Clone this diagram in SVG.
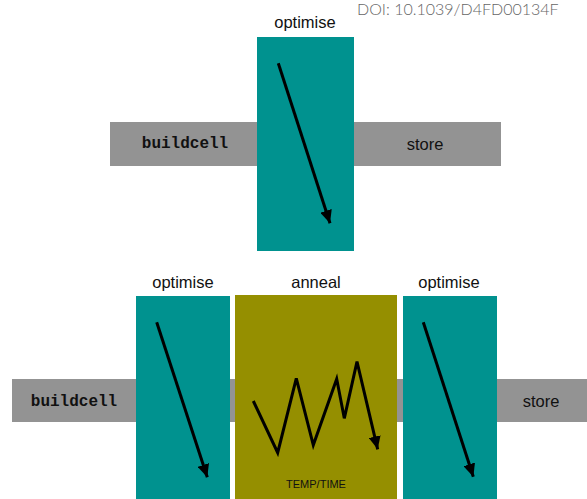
<svg xmlns="http://www.w3.org/2000/svg" width="587" height="499" viewBox="0 0 587 499">
<style>
.band{fill:#939393}
.opt{fill:#00928F}
.ann{fill:#958F00}
.lbl{font-family:"Liberation Sans",Arial,sans-serif;font-size:16.5px;fill:#111;text-anchor:middle}
.code{font-family:"Liberation Mono","Courier New",monospace;font-weight:bold;font-size:16px;fill:#111;text-anchor:middle}
.small{font-family:"Liberation Sans",Arial,sans-serif;font-size:11px;fill:#111;text-anchor:middle}
.doi{font-family:Lato,"Liberation Sans",sans-serif;font-weight:300;font-size:16px;fill:#666}
.arr{fill:none;stroke:#000;stroke-width:3;stroke-linejoin:miter}
</style>
<defs>
<marker id="ah" markerUnits="userSpaceOnUse" markerWidth="14" markerHeight="12" viewBox="0 0 14 12" refX="13" refY="6" orient="auto">
<path d="M0,0 L13,6 L0,12 z" fill="#000"/>
</marker>
</defs>
<text class="doi" x="357" y="15">DOI: 10.1039/D4FD00134F</text>

<g id="top">
<g id="top-band"><rect class="band" x="110" y="122" width="391" height="44"/></g>
<g id="top-buildcell"><text class="code" x="185" y="148">buildcell</text></g>
<g id="top-store"><text class="lbl" x="425" y="150">store</text></g>
<g id="top-optimise">
<rect class="opt" x="257" y="37" width="97" height="214"/>
<text class="lbl" x="305" y="28">optimise</text>
</g>
</g>

<g id="bottom">
<g id="bot-band"><rect class="band" x="12" y="379" width="575" height="43"/></g>
<g id="bot-buildcell"><text class="code" x="74" y="406">buildcell</text></g>
<g id="bot-store"><text class="lbl" x="541" y="407">store</text></g>
<g id="bot-optimise1">
<rect class="opt" x="136" y="296" width="94" height="203"/>
<text class="lbl" x="183" y="288">optimise</text>
</g>
<g id="bot-anneal">
<rect class="ann" x="235" y="295" width="162" height="204"/>
<text class="lbl" x="316" y="288">anneal</text>
<text class="small" x="316" y="488">TEMP/TIME</text>
</g>
<g id="bot-optimise2">
<rect class="opt" x="403" y="296" width="94" height="203"/>
<text class="lbl" x="449" y="288">optimise</text>
</g>
</g>

<g id="connectors">
<path class="arr" d="M278.3,63.3 L330,223.3" marker-end="url(#ah)"/>
<path class="arr" d="M156.7,322.3 L207.3,477.3" marker-end="url(#ah)"/>
<path class="arr" d="M423.3,322.3 L473.3,476.7" marker-end="url(#ah)"/>
<path class="arr" d="M253.3,401 L277.7,452.7 L296.3,378.3 L313.3,445 L336.7,379 L344.3,418.3 L357,361.7 L377.7,449.3" marker-end="url(#ah)"/>
</g>
</svg>
